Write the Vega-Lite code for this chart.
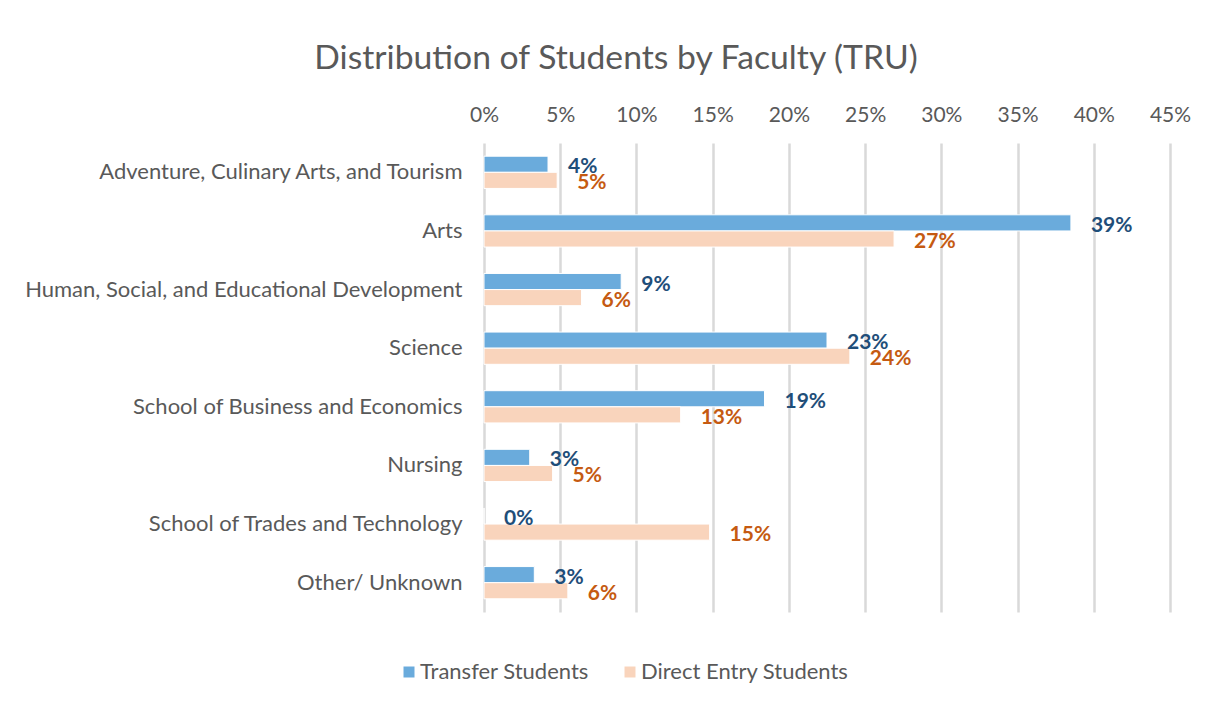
{
  "$schema": "https://vega.github.io/schema/vega-lite/v6.json",
  "autosize": {"type": "none"},
  "padding": {"left": 484, "top": 143, "right": 45, "bottom": 96},
  "width": 686,
  "height": 469,
  "background": "white",
  "title": {
    "text": "Distribution of Students by Faculty (TRU)",
    "anchor": "middle",
    "frame": "group",
    "dx": -211,
    "offset": 28,
    "fontSize": 33.7,
    "font": "Lato",
    "fontWeight": "normal",
    "color": "#595959"
  },
  "config": {
    "font": "Lato",
    "view": {"stroke": null}
  },
  "data": {
    "values": [
      {"faculty": "Adventure, Culinary Arts, and Tourism", "series": "Transfer Students", "value": 4.2, "label": "4%"},
      {"faculty": "Adventure, Culinary Arts, and Tourism", "series": "Direct Entry Students", "value": 4.8, "label": "5%"},
      {"faculty": "Arts", "series": "Transfer Students", "value": 38.5, "label": "39%"},
      {"faculty": "Arts", "series": "Direct Entry Students", "value": 26.9, "label": "27%"},
      {"faculty": "Human, Social, and Educational Development", "series": "Transfer Students", "value": 9.0, "label": "9%"},
      {"faculty": "Human, Social, and Educational Development", "series": "Direct Entry Students", "value": 6.4, "label": "6%"},
      {"faculty": "Science", "series": "Transfer Students", "value": 22.5, "label": "23%"},
      {"faculty": "Science", "series": "Direct Entry Students", "value": 24.0, "label": "24%"},
      {"faculty": "School of Business and Economics", "series": "Transfer Students", "value": 18.4, "label": "19%"},
      {"faculty": "School of Business and Economics", "series": "Direct Entry Students", "value": 12.9, "label": "13%"},
      {"faculty": "Nursing", "series": "Transfer Students", "value": 3.0, "label": "3%"},
      {"faculty": "Nursing", "series": "Direct Entry Students", "value": 4.5, "label": "5%"},
      {"faculty": "School of Trades and Technology", "series": "Transfer Students", "value": 0.0, "label": "0%"},
      {"faculty": "School of Trades and Technology", "series": "Direct Entry Students", "value": 14.8, "label": "15%"},
      {"faculty": "Other/ Unknown", "series": "Transfer Students", "value": 3.3, "label": "3%"},
      {"faculty": "Other/ Unknown", "series": "Direct Entry Students", "value": 5.5, "label": "6%"}
    ]
  },
  "encoding": {
    "y": {
      "field": "faculty",
      "type": "nominal",
      "sort": null,
      "scale": {"paddingInner": 0.45, "paddingOuter": 0.225},
      "axis": {
        "title": null,
        "domain": false,
        "ticks": false,
        "labelFontSize": 22,
        "labelColor": "#595959",
        "labelPadding": 22,
        "labelLimit": 600
      }
    },
    "yOffset": {
      "field": "series",
      "type": "nominal",
      "scale": {"domain": ["Transfer Students", "Direct Entry Students"], "paddingInner": 0}
    },
    "x": {
      "field": "value",
      "type": "quantitative",
      "scale": {"domain": [0, 45], "nice": false},
      "axis": {
        "orient": "top",
        "title": null,
        "values": [0, 5, 10, 15, 20, 25, 30, 35, 40, 45],
        "labelExpr": "datum.value + '%'",
        "labelFlush": false,
        "domain": false,
        "ticks": false,
        "grid": true,
        "gridColor": "#D9D9D9",
        "gridWidth": 2.5,
        "labelFontSize": 21,
        "labelColor": "#595959",
        "labelPadding": 18
      }
    }
  },
  "layer": [
    {
      "mark": {"type": "bar", "stroke": "white", "strokeWidth": 1},
      "encoding": {
        "color": {
          "field": "series",
          "type": "nominal",
          "scale": {"domain": ["Transfer Students", "Direct Entry Students"], "range": ["#6AABDC", "#F9D4BC"]},
          "legend": {
            "title": null,
            "orient": "none",
            "direction": "horizontal",
            "legendX": -86,
            "legendY": 518,
            "symbolType": "square",
            "symbolSize": 121,
            "symbolStrokeWidth": 0,
            "labelFontSize": 22,
            "labelColor": "#595959",
            "labelOffset": 0,
            "columnPadding": 30,
            "labelLimit": 400
          }
        }
      }
    },
    {
      "mark": {"type": "text", "align": "left", "baseline": "middle", "dx": 20, "dy": 3, "fontSize": 21, "fontWeight": "bold"},
      "encoding": {
        "text": {"field": "label"},
        "color": {
          "condition": {"test": "datum.series === 'Transfer Students'", "value": "#1F4E79"},
          "value": "#C55A11"
        }
      }
    }
  ]
}
